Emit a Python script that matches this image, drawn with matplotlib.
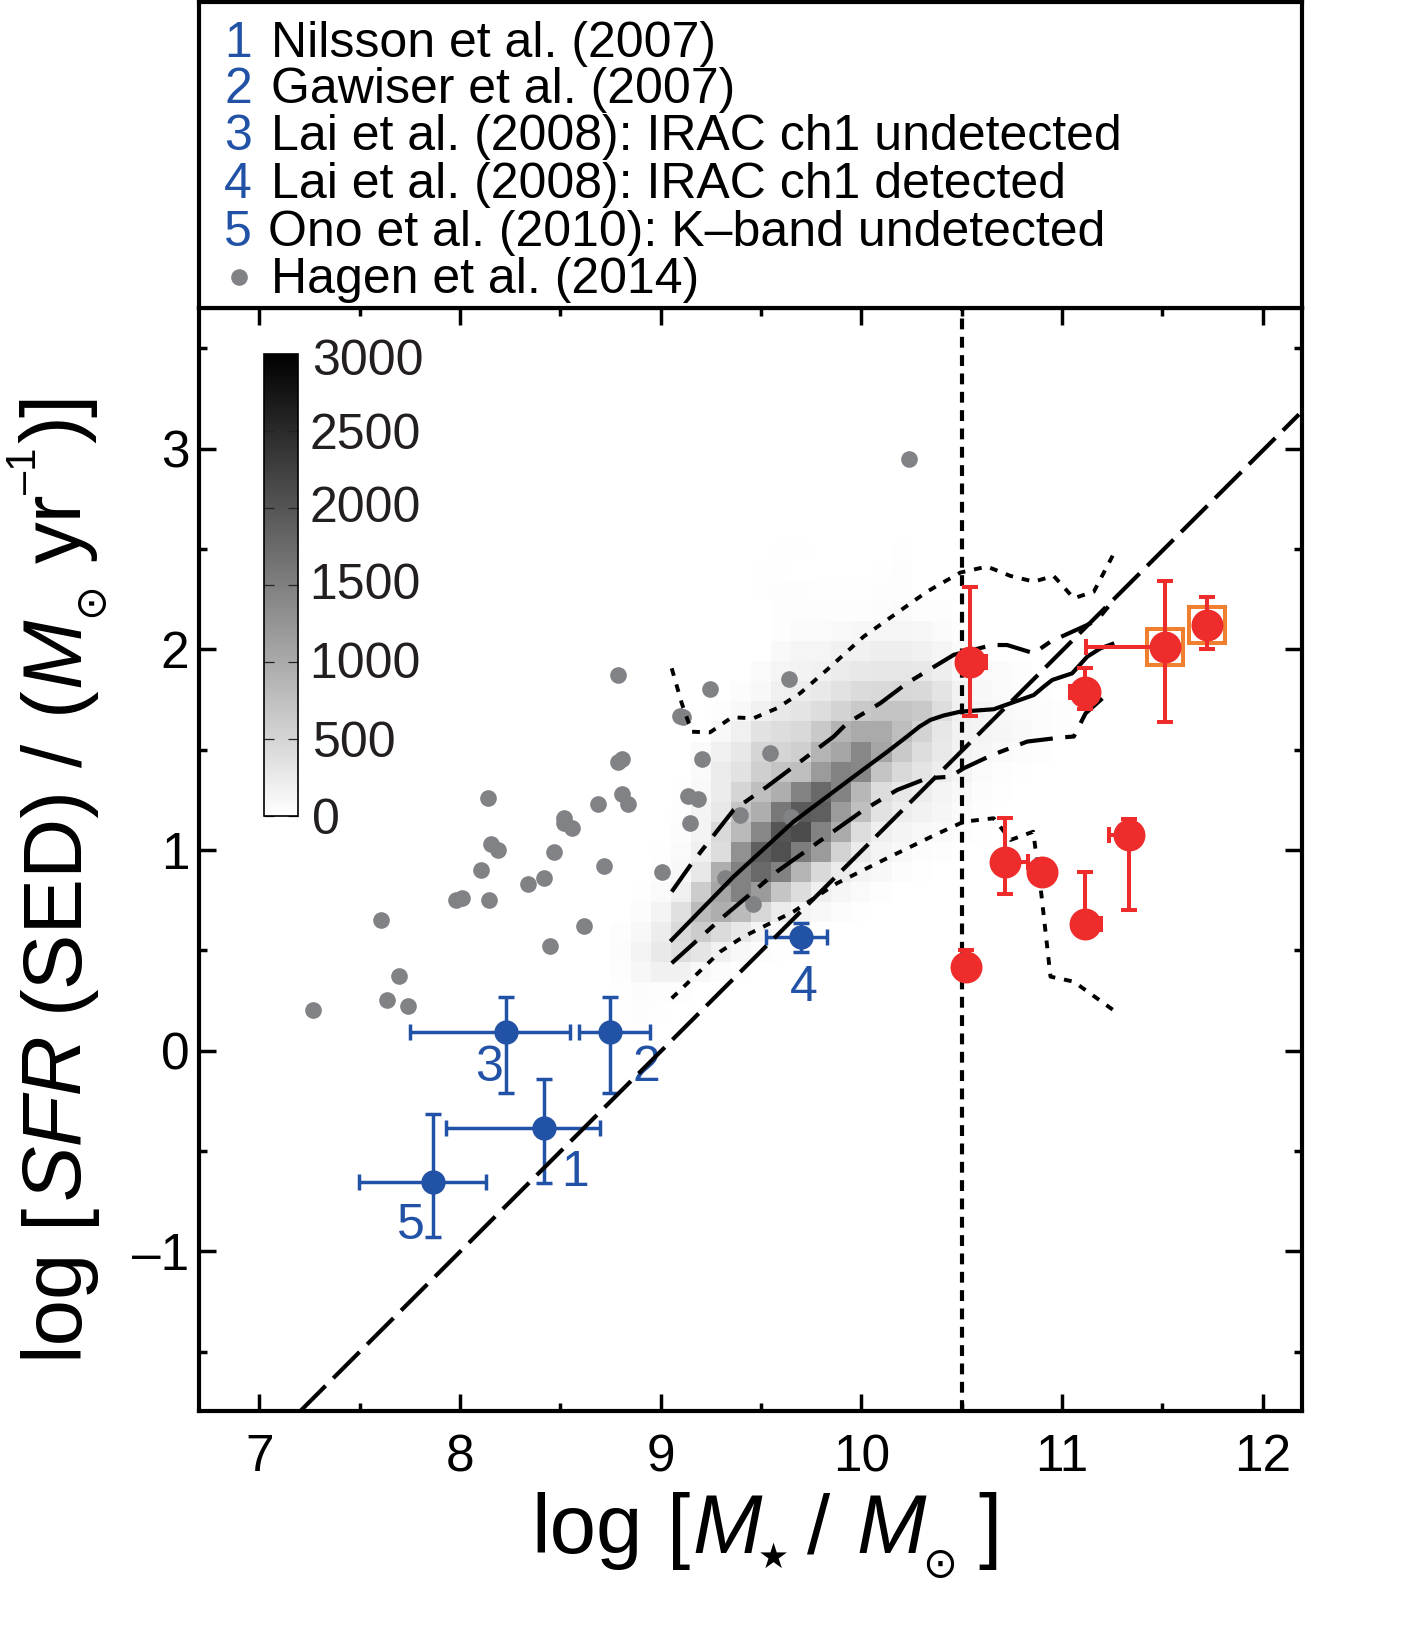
import matplotlib
matplotlib.use('Agg')
import matplotlib.pyplot as plt
import numpy as np

plt.rcParams['font.family'] = ['Liberation Sans', 'DejaVu Sans']

W, H = 1401, 1628

# Density map, rows from y=0.19 upward, x from 8.7 in steps of 0.1
grid_x0 = 8.65
grid_y0 = 0.14
density = [
    [0, 15, 25, 15, 0, 0, 0, 0, 0, 0, 0, 0, 0, 0, 0, 0, 0, 0, 0, 0, 0, 0, 0, 0, 0, 0],
    [0, 15, 45, 25, 25, 0, 0, 0, 0, 0, 0, 0, 0, 0, 0, 0, 0, 0, 0, 0, 0, 0, 0, 0, 0, 0],
    [0, 25, 100, 175, 175, 90, 45, 15, 0, 0, 0, 0, 0, 0, 0, 0, 0, 0, 0, 0, 0, 0, 0, 0, 0, 0],
    [0, 45, 130, 260, 400, 310, 175, 90, 45, 15, 0, 0, 0, 0, 0, 0, 0, 0, 0, 0, 0, 0, 0, 0, 0, 0],
    [0, 25, 90, 220, 450, 600, 430, 280, 140, 60, 25, 15, 0, 0, 0, 0, 0, 0, 0, 0, 0, 0, 0, 0, 0, 0],
    [0, 0, 45, 130, 370, 800, 950, 800, 480, 235, 140, 90, 45, 15, 0, 0, 0, 0, 0, 0, 0, 0, 0, 0, 0, 0],
    [0, 0, 15, 60, 180, 600, 1050, 1470, 1180, 680, 400, 190, 110, 60, 25, 0, 0, 0, 0, 0, 0, 0, 0, 0, 0, 0],
    [0, 0, 0, 25, 90, 280, 950, 1470, 1765, 1470, 880, 450, 235, 140, 90, 45, 15, 0, 0, 0, 0, 0, 0, 0, 0, 0],
    [0, 0, 0, 15, 60, 180, 400, 1295, 1880, 2060, 1530, 1180, 520, 235, 140, 90, 45, 25, 0, 0, 0, 0, 0, 0, 0, 0],
    [0, 0, 0, 0, 45, 130, 450, 820, 1410, 2000, 2120, 1470, 1000, 400, 190, 140, 90, 60, 45, 15, 0, 0, 0, 0, 0, 0],
    [0, 0, 0, 0, 25, 130, 280, 680, 950, 1590, 1940, 1880, 1180, 760, 340, 220, 160, 110, 60, 25, 0, 0, 0, 0, 0, 0],
    [0, 0, 0, 0, 15, 90, 235, 500, 760, 950, 1470, 1765, 1470, 850, 400, 280, 220, 140, 90, 45, 15, 0, 0, 0, 0, 0],
    [0, 0, 0, 0, 0, 60, 235, 340, 570, 700, 765, 1180, 1470, 1410, 700, 450, 320, 220, 140, 60, 35, 15, 0, 0, 0, 0],
    [0, 0, 0, 0, 0, 60, 180, 280, 500, 500, 570, 880, 1060, 1410, 1060, 640, 400, 260, 160, 110, 60, 45, 25, 0, 0, 0],
    [0, 0, 0, 0, 0, 0, 90, 180, 340, 400, 450, 640, 880, 1000, 1000, 765, 520, 290, 160, 140, 110, 80, 45, 25, 0, 0],
    [0, 0, 0, 0, 0, 0, 25, 90, 180, 280, 320, 400, 520, 640, 700, 700, 640, 400, 180, 140, 90, 60, 45, 25, 0, 0],
    [0, 0, 0, 0, 0, 0, 0, 45, 90, 180, 220, 260, 340, 430, 450, 470, 450, 320, 160, 90, 60, 45, 25, 0, 0, 0],
    [0, 0, 0, 0, 0, 0, 0, 0, 50, 120, 150, 175, 235, 280, 300, 300, 280, 200, 100, 65, 50, 30, 0, 0, 0, 0],
    [0, 0, 0, 0, 0, 0, 0, 0, 0, 80, 120, 120, 175, 175, 200, 200, 175, 120, 60, 35, 0, 0, 0, 0, 0, 0],
    [0, 0, 0, 0, 0, 0, 0, 0, 0, 35, 60, 60, 80, 105, 120, 120, 95, 60, 35, 0, 0, 0, 0, 0, 0, 0],
    [0, 0, 0, 0, 0, 0, 0, 0, 0, 25, 25, 35, 35, 35, 45, 60, 35, 25, 0, 0, 0, 0, 0, 0, 0, 0],
    [0, 0, 0, 0, 0, 0, 0, 0, 15, 25, 25, 15, 15, 15, 25, 25, 0, 0, 0, 0, 0, 0, 0, 0, 0, 0],
    [0, 0, 0, 0, 0, 0, 0, 0, 20, 20, 0, 0, 0, 0, 15, 25, 0, 0, 0, 0, 0, 0, 0, 0, 0, 0],
    [0, 0, 0, 0, 0, 0, 0, 0, 0, 15, 15, 0, 0, 0, 0, 15, 0, 0, 0, 0, 0, 0, 0, 0, 0, 0],
]

# Hagen et al. points
hagen_x = [7.268, 7.637, 7.739, 7.697, 7.607, 7.978, 8.008, 8.146, 8.106, 8.154, 8.189, 8.138,
           8.337, 8.418, 8.468, 8.518, 8.518, 8.558, 8.448, 8.618, 8.718, 8.688, 8.806, 8.839,
           8.787, 8.807, 8.787, 9.007, 9.097, 9.113, 9.138, 9.188, 9.147, 9.396, 9.318, 9.458,
           9.650, 9.246, 9.637, 9.546, 9.208, 10.238]
hagen_y = [0.203, 0.251, 0.223, 0.372, 0.651, 0.751, 0.759, 0.751, 0.900, 1.030, 1.002, 1.261,
           0.831, 0.860, 0.990, 1.160, 1.133, 1.111, 0.520, 0.621, 0.920, 1.231, 1.280, 1.231,
           1.440, 1.452, 1.870, 0.892, 1.668, 1.661, 1.270, 1.252, 1.133, 1.174, 0.862, 0.731,
           1.163, 1.801, 1.850, 1.482, 1.452, 2.948]

# Blue literature points: 1, 2, 3, 4, 5
lit_x = [8.417, 8.748, 8.227, 9.697, 7.868]
lit_y = [-0.387, 0.095, 0.095, 0.565, -0.653]
lit_xlo = [7.930, 8.595, 7.750, 9.526, 7.497]
lit_xhi = [8.698, 8.947, 8.548, 9.828, 8.129]
lit_ylo = [-0.661, -0.209, -0.209, 0.490, -0.927]
lit_yhi = [-0.140, 0.266, 0.266, 0.638, -0.314]
lit_names = ['1', '2', '3', '4', '5']
lit_name_x = [8.573, 8.930, 8.146, 9.715, 7.754]
lit_name_y = [-0.610, -0.088, -0.088, 0.310, -0.875]

# Red points
red_x = [10.543, 10.523, 10.713, 10.900, 11.112, 11.112, 11.331, 11.511, 11.720]
red_y = [1.938, 0.416, 0.942, 0.892, 1.789, 0.631, 1.075, 2.011, 2.120]
red_xlo = [10.503, 10.483, 10.673, 10.860, 11.039, 11.072, 11.233, 11.120, 11.680]
red_xhi = [10.621, 10.563, 10.829, 10.940, 11.152, 11.195, 11.371, 11.551, 11.760]
red_ylo = [1.668, 0.376, 0.781, 0.852, 1.701, 0.591, 0.701, 1.638, 2.000]
red_yhi = [2.310, 0.50, 1.161, 0.932, 1.908, 0.890, 1.153, 2.340, 2.262]
box_x = [11.511, 11.720]
box_y = [2.011, 2.120]

# Main sequence line
ms_x = [7.2, 12.18]
ms_y = [-1.8, 3.17]

# Median and percentile curves
med_x = [9.055, 9.363, 9.662, 9.961, 10.130, 10.227, 10.290, 10.344, 10.410, 10.493, 10.659, 10.743, 10.859, 10.910, 10.951, 11.050, 11.125, 11.192, 11.250]
med_y = [0.552, 0.867, 1.141, 1.365, 1.490, 1.565, 1.615, 1.648, 1.670, 1.689, 1.701, 1.731, 1.772, 1.815, 1.847, 1.880, 1.963, 2.005, 2.026]
up1_x = [9.055, 9.155, 9.363, 9.529, 9.862, 9.928, 10.094, 10.227, 10.460, 10.651, 10.726, 10.859, 10.942, 11.125, 11.175, 11.250]
up1_y = [0.792, 0.934, 1.199, 1.315, 1.565, 1.631, 1.731, 1.831, 1.972, 2.021, 2.021, 1.980, 2.038, 2.121, 2.146, 2.237]
lo1_x = [9.055, 9.313, 9.579, 9.778, 10.011, 10.178, 10.327, 10.443, 10.510, 10.651, 10.826, 11.000, 11.058, 11.117, 11.233]
lo1_y = [0.436, 0.668, 0.892, 1.034, 1.199, 1.299, 1.357, 1.365, 1.407, 1.473, 1.540, 1.561, 1.565, 1.681, 1.784]
up2_x = [9.055, 9.105, 9.155, 9.246, 9.355, 9.462, 9.579, 9.695, 9.828, 10.011, 10.128, 10.327, 10.493, 10.626, 10.743, 10.859, 10.958, 11.058, 11.158, 11.254]
up2_y = [1.905, 1.731, 1.589, 1.586, 1.661, 1.656, 1.706, 1.781, 1.897, 2.063, 2.146, 2.287, 2.382, 2.412, 2.365, 2.337, 2.365, 2.254, 2.287, 2.470]
lo2_x = [9.055, 9.296, 9.412, 9.662, 9.878, 10.128, 10.377, 10.510, 10.659, 10.743, 10.856, 10.896, 10.942, 11.058, 11.254]
lo2_y = [0.261, 0.493, 0.568, 0.693, 0.834, 0.959, 1.080, 1.141, 1.158, 1.050, 1.091, 0.784, 0.369, 0.344, 0.203]

legend_nums = ['1', '2', '3', '4', '5']
legend_text = ['Nilsson et al. (2007)', 'Gawiser et al. (2007)', 'Lai et al. (2008): IRAC ch1 undetected',
               'Lai et al. (2008): IRAC ch1 detected', 'Ono et al. (2010): K\u2013band undetected',
               'Hagen et al. (2014)']
cbar_ticks = [0, 500, 1000, 1500, 2000, 2500]
cbar_labels = ['0', '500', '1000', '1500', '2000', '2500', '3000']
cbar_label_pos = [-35, 470, 983, 1495, 1994, 2467, 2945]
cbar_label_x = [1.42, 1.42, 1.32, 1.32, 1.32, 1.32, 1.42]

BLUE = '#2252A6'
RED = '#EE2C2C'
GRAY = '#808285'
ORANGE = '#F08030'
INK = '#231F20'


def fx(x):
    return x / W


def fy(y):
    return 1 - y / H


def err(v, lo, hi):
    return [[v - lo], [hi - v]]


fig = plt.figure(figsize=(W / 100, H / 100), dpi=100)

# Main panel
ax = fig.add_axes([fx(199), fy(1411), fx(1302) - fx(199), fy(308) - fy(1411)])
ax.set_xlim(6.70, 12.195)
ax.set_ylim(-1.795, 3.70)

xe = grid_x0 + 0.1 * np.arange(len(density[0]) + 1)
ye = grid_y0 + 0.1 * np.arange(len(density) + 1)
mesh = ax.pcolormesh(xe, ye, np.array(density), cmap='gray_r', vmin=0, vmax=3000, zorder=1, linewidth=0)

ax.plot(hagen_x, hagen_y, 'o', color=GRAY, ms=12, mew=0, zorder=2)

for i in range(len(lit_x)):
    ax.errorbar(lit_x[i], lit_y[i], xerr=err(lit_x[i], lit_xlo[i], lit_xhi[i]),
                yerr=err(lit_y[i], lit_ylo[i], lit_yhi[i]),
                fmt='none', ecolor=BLUE, elinewidth=2.5, capsize=6, capthick=2.5, zorder=3)
    ax.text(lit_name_x[i], lit_name_y[i], lit_names[i], color=BLUE, fontsize=36, ha='center', va='center', zorder=3)
ax.plot(lit_x, lit_y, 'o', color=BLUE, ms=17.5, mew=0, zorder=3)

ax.plot(ms_x, ms_y, color='k', lw=3, ls=(0, (8.9, 2.6)), zorder=4)
ax.axvline(10.5, color='k', lw=3, ls=(0, (2.6, 1.8)), zorder=4)
ax.plot(med_x, med_y, color='k', lw=3, zorder=4)
ax.plot(up1_x, up1_y, color='k', lw=3, ls=(0, (8, 3, 2.7, 3)), zorder=4)
ax.plot(lo1_x, lo1_y, color='k', lw=3, ls=(0, (8, 3, 2.7, 3)), zorder=4)
ax.plot(up2_x, up2_y, color='k', lw=2.8, ls=(0, (2.0, 2.3)), zorder=4)
ax.plot(lo2_x, lo2_y, color='k', lw=2.8, ls=(0, (2.0, 2.3)), zorder=4)

ax.plot(box_x, box_y, 's', mfc='none', mec=ORANGE, ms=26.6, mew=2.9, zorder=5)
for i in range(len(red_x)):
    ax.errorbar(red_x[i], red_y[i], xerr=err(red_x[i], red_xlo[i], red_xhi[i]),
                yerr=err(red_y[i], red_ylo[i], red_yhi[i]),
                fmt='none', ecolor=RED, elinewidth=2.9, capsize=6, capthick=2.9, zorder=6)
ax.plot(red_x, red_y, 'o', color=RED, ms=23, mew=0, zorder=6)

ax.set_xticks([7, 8, 9, 10, 11, 12])
ax.set_xticks(np.arange(7.5, 12, 1), minor=True)
ax.set_yticks([-1, 0, 1, 2, 3])
ax.set_yticks([-1.5, -0.5, 0.5, 1.5, 2.5, 3.5], minor=True)
ax.set_yticklabels(['\u20131', '0', '1', '2', '3'])
ax.tick_params(which='major', direction='in', top=True, right=True, length=12, width=2.5, labelsize=37)
ax.tick_params(which='minor', direction='in', top=True, right=True, length=6, width=2.5)
ax.tick_params(axis='x', pad=16)
ax.tick_params(axis='y', pad=7)
for s in ax.spines.values():
    s.set_linewidth(3)

# Colour bar inside the panel
cax = fig.add_axes([fx(263.5), fy(816), fx(298) - fx(263.5), fy(354) - fy(816)])
cbar = fig.colorbar(mesh, cax=cax, ticks=cbar_ticks)
cbar.outline.set_linewidth(1.2)
cax.set_yticklabels([])
cax.tick_params(direction='in', left=True, right=True, length=7, width=0.9, color='#222222')
for lab, pos, lx in zip(cbar_labels, cbar_label_pos, cbar_label_x):
    cax.text(lx, pos, lab, fontsize=36, color=INK, ha='left', va='center',
             transform=cax.get_yaxis_transform())

# Source list above the panel
lax = fig.add_axes([fx(199), fy(308), fx(1302) - fx(199), fy(2) - fy(308)])
lax.set_xlim(199, 1302)
lax.set_ylim(308, 2)
lax.set_xticks([])
lax.set_yticks([])
for s in lax.spines.values():
    s.set_linewidth(3)
legend_base = [56.7, 103, 150, 197.7, 245.7, 292.7]
for i, txt in enumerate(legend_text):
    lax.text(271 if i != 4 else 268, legend_base[i], txt, fontsize=36, color='k', va='baseline', ha='left')
    if i < 5:
        lax.text(238, legend_base[i], legend_nums[i], fontsize=36, color=BLUE, va='baseline', ha='center')
lax.plot([239], [276.7], 'o', color=GRAY, ms=12, mew=0)

# Axis titles, set piece by piece because of the solar and stellar subscripts
fs = 60
fig.text(fx(531), fy(1553), 'log', fontsize=fs, va='baseline', ha='left')
fig.text(fx(667), fy(1553), '[', fontsize=fs, va='baseline', ha='left')
fig.text(fx(692), fy(1553), 'M', fontsize=fs, style='italic', va='baseline', ha='left')
fig.text(fx(773), fy(1568), '\u2605', fontsize=25, family='DejaVu Sans', va='baseline', ha='center')
fig.text(fx(807), fy(1553), '/', fontsize=fs, va='baseline', ha='left')
fig.text(fx(856), fy(1553), 'M', fontsize=fs, style='italic', va='baseline', ha='left')
fig.text(fx(940), fy(1577), '\u2299', fontsize=30, family='DejaVu Sans', va='baseline', ha='center')
fig.text(fx(978), fy(1553), ']', fontsize=fs, va='baseline', ha='left')

# rotated glyphs get their side bearing added to x instead of y, so each piece has its own x
pieces = [(1358, 76.5, 'log', {}), (1225, 76.5, '[', {}), (1199, 78.5, 'SFR', {'style': 'italic'}),
          (1011, 77, '(SED)', {}), (767, 82, '/', {}), (713, 77, '(', {}),
          (687, 79, 'M', {'style': 'italic'}), (563, 81, 'yr', {}), (443, 79.5, ')', {}), (417, 80.5, ']', {})]
for y0, x0, s, kw in pieces:
    fig.text(fx(x0), fy(y0), s, fontsize=fs, rotation=90, rotation_mode='anchor', va='baseline', ha='left', **kw)
fig.text(fx(102), fy(600), '\u2299', fontsize=30, family='DejaVu Sans', rotation=90, rotation_mode='anchor',
         va='baseline', ha='center')
fig.text(fx(36), fy(494), '\u20131', fontsize=30, rotation=90, rotation_mode='anchor', va='baseline', ha='left')

fig.savefig('out.png', dpi=100)
